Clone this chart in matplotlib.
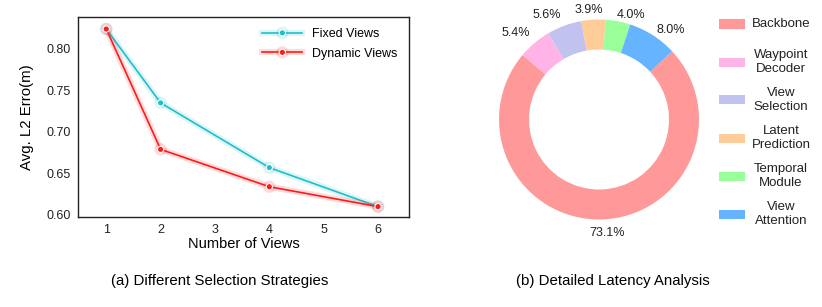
import matplotlib.pyplot as plt
import matplotlib.patheffects as pe
from matplotlib.patches import Rectangle

plt.rcParams['font.family'] = ['Liberation Sans', 'DejaVu Sans']

# (a) selection strategies
num_views = [1, 2, 4, 6]
fixed_err = [0.824, 0.735, 0.657, 0.610]
dynamic_err = [0.824, 0.679, 0.634, 0.610]
x_ticks = [1, 2, 3, 4, 5, 6]

# (b) latency breakdown
modules = ['Backbone', 'Waypoint\nDecoder', 'View\nSelection', 'Latent\nPrediction',
           'Temporal\nModule', 'View\nAttention']
latency = [73.1, 5.4, 5.6, 3.9, 4.0, 8.0]
pie_colors = ['#ff9999', '#ffb3e6', '#c2c2f0', '#ffcc99', '#99ff99', '#66b3ff']

# percentage labels were spread out by hand in the original
pct_xy = [(0.08, -1.135), (-0.83, 0.86), (-0.52, 1.05), (-0.10, 1.095),
          (0.32, 1.05), (0.72, 0.895)]

W, H = 822, 307
fig = plt.figure(figsize=(W / 100, H / 100), dpi=100)

# ---- left: line plot
ax = fig.add_axes([78 / W, (H - 217) / H, 331 / W, 200 / H])
glow = lambda c: [pe.Stroke(linewidth=4.5, foreground=c, alpha=0.15), pe.Normal()]
ax.plot(num_views, fixed_err, color='#1fbfca', lw=1.2, marker='o', ms=4.5,
        mfc='#1fbfca', mec='white', mew=0.8, label='Fixed Views',
        path_effects=glow('#1fbfca'))
ax.plot(num_views, dynamic_err, color='#ff1a1a', lw=1.2, marker='o', ms=4.5,
        mfc='#ff1a1a', mec='white', mew=0.8, label='Dynamic Views',
        path_effects=glow('#ff1a1a'))
ax.set_xlim(0.48, 6.57)
ax.set_ylim(0.5975, 0.8385)
ax.set_xticks(x_ticks)
ax.set_yticks([0.60, 0.65, 0.70, 0.75, 0.80])
ax.set_yticklabels(['0.60', '0.65', '0.70', '0.75', '0.80'])
ax.tick_params(length=0, labelsize=9, colors='#222222', pad=5)
for s in ax.spines.values():
    s.set_color('#222222')
    s.set_linewidth(1.0)
ax.set_xlabel('Number of Views', fontsize=10.5, labelpad=1)
ax.set_ylabel('Avg. L2 Erro(m)', fontsize=10.8, labelpad=9)
ax.legend(loc='upper right', frameon=False, fontsize=9, handlelength=3.2,
          handletextpad=0.8, labelspacing=0.6, bbox_to_anchor=(1.0, 1.0))

fig.text(220 / W, 1 - 281 / H, '(a) Different Selection Strategies',
         ha='center', va='center', fontsize=10.8)

# ---- right: donut
pax = fig.add_axes([499 / W, (H - 219.5) / H, 200 / W, 200 / H])
wedges, _, pct = pax.pie(latency, colors=pie_colors, startangle=43, counterclock=False,
                         autopct='%1.1f%%', pctdistance=1.14,
                         wedgeprops=dict(width=0.3, edgecolor='none'),
                         textprops=dict(fontsize=9, color='#222222'))
for t, xy in zip(pct, pct_xy):
    t.set_position(xy)
pax.set_xlim(-1, 1)
pax.set_ylim(-1, 1)
pax.set_aspect('equal')

# legend entries evenly spaced, text centred next to each swatch
for i, (c, lab) in enumerate(zip(pie_colors, modules)):
    yc = 24 + 38 * i
    fig.patches.append(Rectangle((719 / W, 1 - (yc + 4.5) / H), 26 / W, 9 / H,
                                 facecolor=c, edgecolor='none', transform=fig.transFigure))
    fig.text(781 / W, 1 - yc / H, lab, ha='center', va='center', fontsize=9.5,
             multialignment='center', linespacing=1.2, color='#222222')

fig.text(613 / W, 1 - 281 / H, '(b) Detailed Latency Analysis',
         ha='center', va='center', fontsize=10.8)

fig.savefig('out.png', dpi=100)
